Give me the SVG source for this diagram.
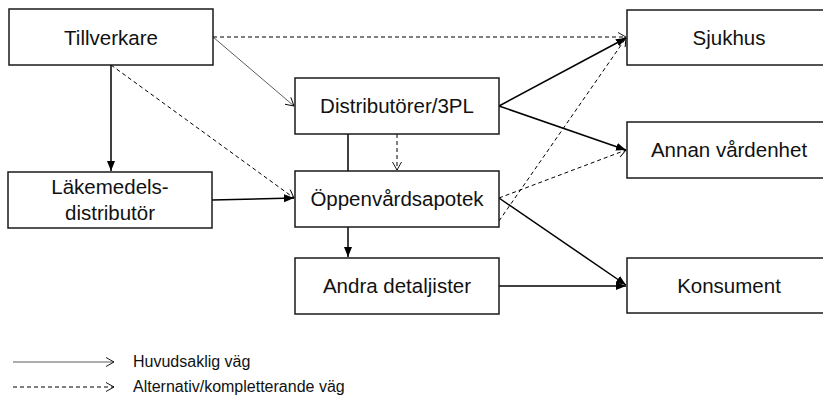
<svg xmlns="http://www.w3.org/2000/svg" width="823" height="398" viewBox="0 0 823 398">
<style>
.box{fill:#fff;stroke:#1a1a1a;stroke-width:1.5}
.lbl{font-family:"Liberation Sans",Arial,sans-serif;font-size:20.5px;fill:#111;text-anchor:middle}
.leg{font-family:"Liberation Sans",Arial,sans-serif;font-size:16px;fill:#111}
.main{fill:none;stroke:#000;stroke-width:1.5}
.thin{fill:none;stroke:#333;stroke-width:0.8}
.dash{fill:none;stroke:#000;stroke-width:1;stroke-dasharray:4 3}
</style>
<defs>
<marker id="fill" markerUnits="userSpaceOnUse" markerWidth="12" markerHeight="10" refX="10" refY="5" orient="auto">
<path d="M0,1 L10,5 L0,9 Z" fill="#000"/>
</marker>
<marker id="open" markerUnits="userSpaceOnUse" markerWidth="12" markerHeight="12" refX="9" refY="6" orient="auto">
<path d="M1,1.5 L9,6 L1,10.5" fill="none" stroke="#000" stroke-width="0.9"/>
</marker>
</defs>
<g id="connectors">
<line class="main" x1="348" y1="134" x2="348" y2="257" marker-end="url(#fill)"/>
<line class="thin" x1="213" y1="37" x2="294" y2="106" marker-end="url(#open)"/>
<line class="dash" x1="213" y1="37" x2="626" y2="37" marker-end="url(#open)"/>
<line class="main" x1="111" y1="65" x2="111" y2="171" marker-end="url(#fill)"/>
<line class="dash" x1="111" y1="65" x2="294" y2="198" marker-end="url(#open)"/>
<line class="main" x1="212" y1="200" x2="294" y2="198" marker-end="url(#fill)"/>
<line class="dash" x1="397" y1="134" x2="397" y2="170" marker-end="url(#open)"/>
<line class="dash" x1="499" y1="221" x2="626" y2="38" marker-end="url(#open)"/>
<line class="main" x1="499" y1="106" x2="626" y2="38" marker-end="url(#fill)"/>
<line class="dash" x1="499" y1="198" x2="626" y2="150" marker-end="url(#open)"/>
<line class="main" x1="499" y1="106" x2="626" y2="150" marker-end="url(#fill)"/>
<line class="main" x1="499" y1="198" x2="626" y2="285" marker-end="url(#fill)"/>
<line class="main" x1="499" y1="286" x2="626" y2="286" marker-end="url(#fill)"/>
</g>
<g id="tillverkare">
<rect class="box" x="9" y="9" width="204" height="56"/>
<text class="lbl" x="111" y="45">Tillverkare</text>
</g>
<g id="lakemedelsdistributor">
<rect class="box" x="8" y="172" width="204" height="56"/>
<text class="lbl" x="110" y="194">Läkemedels-</text>
<text class="lbl" x="110" y="220">distributör</text>
</g>
<g id="distributorer">
<rect class="box" x="295" y="78" width="204" height="56"/>
<text class="lbl" x="397" y="113">Distributörer/3PL</text>
</g>
<g id="oppenvardsapotek">
<rect class="box" x="295" y="171" width="204" height="56"/>
<text class="lbl" x="397" y="206">Öppenvårdsapotek</text>
</g>
<g id="andra-detaljister">
<rect class="box" x="295" y="258" width="204" height="56"/>
<text class="lbl" x="397" y="293">Andra detaljister</text>
</g>
<g id="sjukhus">
<rect class="box" x="627" y="10" width="204" height="55"/>
<text class="lbl" x="729" y="45">Sjukhus</text>
</g>
<g id="annan-vardenhet">
<rect class="box" x="627" y="122" width="204" height="56"/>
<text class="lbl" x="729" y="157">Annan vårdenhet</text>
</g>
<g id="konsument">
<rect class="box" x="627" y="258" width="204" height="55"/>
<text class="lbl" x="729" y="293">Konsument</text>
</g>
<g id="legend">
<line class="thin" x1="13" y1="362" x2="114" y2="362" marker-end="url(#open)"/>
<text class="leg" x="133" y="367">Huvudsaklig väg</text>
<line class="dash" x1="13" y1="387" x2="114" y2="387" marker-end="url(#open)"/>
<text class="leg" x="133" y="392">Alternativ/kompletterande väg</text>
</g>
</svg>
